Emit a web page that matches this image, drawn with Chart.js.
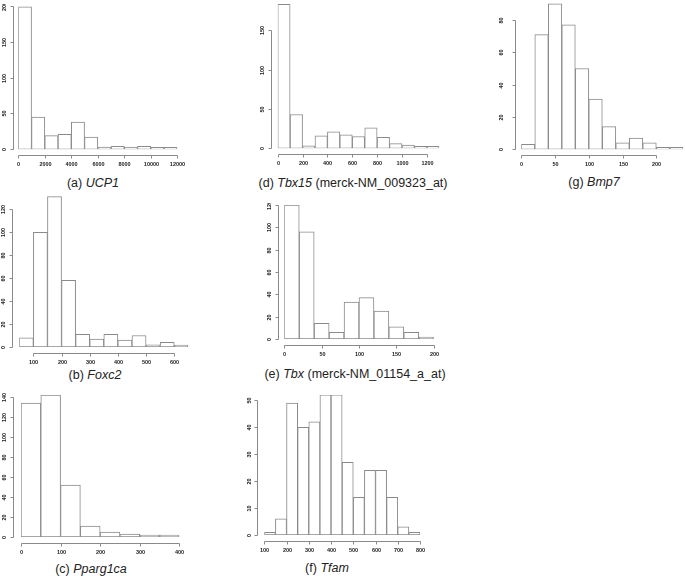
<!DOCTYPE html>
<html>
<head>
<meta charset="utf-8">
<script src="https://cdn.jsdelivr.net/npm/chart.js@4.4.1/dist/chart.umd.min.js"></script>
<style>
  body { margin: 0; background: #fff; width: 685px; height: 576px; position: relative; overflow: hidden;
         font-family: "Liberation Sans", Arial, sans-serif; }
  canvas { position: absolute; }
  .cap { position: absolute; font-size: 12.5px; line-height: 14px; color: #222; white-space: nowrap; transform: translateX(-50%); }
</style>
</head>
<body>
<div class="cap" style="left:93px;top:176px">(a) <i>UCP1</i></div>
<div class="cap" style="left:353px;top:176px">(d) <i>Tbx15</i> (merck-NM_009323_at)</div>
<div class="cap" style="left:594px;top:175px">(g) <i>Bmp7</i></div>
<div class="cap" style="left:95px;top:368px">(b) <i>Foxc2</i></div>
<div class="cap" style="left:355px;top:367px">(e) <i>Tbx</i> (merck-NM_01154_a_at)</div>
<div class="cap" style="left:91px;top:562px">(c) <i>Pparg1ca</i></div>
<div class="cap" style="left:327px;top:561px">(f) <i>Tfam</i></div>
<script>
// bin centres, counts and axis ticks for each histogram

// (a) UCP1
const ucp1Bins = [500, 1500, 2500, 3500, 4500, 5500, 6500, 7500, 8500, 9500, 10500, 11500];
const ucp1Counts = [199, 45, 19, 21, 38, 17, 3, 4, 3, 4, 0, 1];
const ucp1XTicks = [0, 2000, 4000, 6000, 8000, 10000, 12000];
const ucp1YTicks = [0, 50, 100, 150, 200];

// (d) Tbx15
const tbx15Bins = [50, 150, 250, 350, 450, 550, 650, 750, 850, 950, 1050, 1150, 1250];
const tbx15Counts = [183, 43, 3, 16, 21, 17, 15, 26, 14, 6, 4, 0, 1];
const tbx15XTicks = [0, 200, 400, 600, 800, 1000, 1200];
const tbx15YTicks = [0, 50, 100, 150];

// (g) Bmp7
const bmp7Bins = [10, 30, 50, 70, 90, 110, 130, 150, 170, 190, 210, 230];
const bmp7Counts = [3, 71, 90, 77, 50, 31, 14, 4, 7, 4, 0, 1];
const bmp7XTicks = [0, 50, 100, 150, 200];
const bmp7YTicks = [0, 20, 40, 60, 80];

// (b) Foxc2
const foxc2Bins = [75, 125, 175, 225, 275, 325, 375, 425, 475, 525, 575, 625];
const foxc2Counts = [8, 100, 131, 58, 11, 7, 11, 6, 10, 2, 4, 1];
const foxc2XTicks = [100, 200, 300, 400, 500, 600];
const foxc2YTicks = [0, 20, 40, 60, 80, 100, 120];

// (e) Tbx
const tbxBins = [10, 30, 50, 70, 90, 110, 130, 150, 170, 190];
const tbxCounts = [120, 96, 14, 6, 33, 37, 25, 11, 6, 1];
const tbxXTicks = [0, 50, 100, 150, 200];
const tbxYTicks = [0, 20, 40, 60, 80, 100, 120];

// (c) Pparg1ca
const ppargBins = [25, 75, 125, 175, 225, 275, 325, 375];
const ppargCounts = [134, 142, 52, 11, 5, 3, 1, 1];
const ppargXTicks = [0, 100, 200, 300, 400];
const ppargYTicks = [0, 20, 40, 60, 80, 100, 120, 140];

// (f) Tfam
const tfamBins = [125, 175, 225, 275, 325, 375, 425, 475, 525, 575, 625, 675, 725, 775];
const tfamCounts = [1, 6, 49, 40, 42, 52, 52, 27, 14, 24, 24, 14, 3, 1];
const tfamXTicks = [100, 200, 300, 400, 500, 600, 700, 800];
const tfamYTicks = [0, 10, 20, 30, 40, 50];

const LINE = '#8a8a8a';

// R style axes: detached lines running from first to last tick
const rAxes = {
  id: 'rAxes',
  afterDraw(chart, args, o) {
    const { ctx, chartArea } = chart;
    const x = chart.scales.x, y = chart.scales.y;
    const ax = Math.round(chartArea.left - o.yGap) + 0.5;
    const ay = Math.round(chartArea.bottom + o.xGap) + 0.5;
    ctx.save();
    ctx.strokeStyle = LINE;
    ctx.lineWidth = 1;
    ctx.fillStyle = '#222';
    ctx.font = 'bold 5.5px "Liberation Sans", Arial, sans-serif';
    ctx.textAlign = 'center';
    ctx.textBaseline = 'middle';

    const xs = o.xTicks.map(v => Math.round(x.getPixelForValue(v)) + 0.5);
    ctx.beginPath();
    ctx.moveTo(xs[0], ay);
    ctx.lineTo(xs[xs.length - 1], ay);
    xs.forEach(px => { ctx.moveTo(px, ay); ctx.lineTo(px, ay + 3); });
    ctx.stroke();
    o.xTicks.forEach((v, i) => ctx.fillText(String(v), xs[i], ay + o.xLab));

    const ys = o.yTicks.map(v => Math.round(y.getPixelForValue(v)) + 0.5);
    ctx.beginPath();
    ctx.moveTo(ax, ys[0]);
    ctx.lineTo(ax, ys[ys.length - 1]);
    ys.forEach(py => { ctx.moveTo(ax, py); ctx.lineTo(ax - 3, py); });
    ctx.stroke();
    o.yTicks.forEach((v, i) => {
      ctx.save();
      ctx.translate(ax - o.yLab, ys[i]);
      ctx.rotate(-Math.PI / 2);
      ctx.fillText(String(v), 0, 0);
      ctx.restore();
    });
    ctx.restore();
  }
};

function histPanel(bins, counts, xTicks, yTicks, g) {
  const topTick = yTicks[yTicks.length - 1];
  const ppu = (g.b - g.tickTop) / topTick;
  const t = g.b - g.ymax * ppu;
  const CL = Math.floor(g.l - 22), CT = Math.max(0, Math.floor(t - 2));
  const CR = Math.min(685, Math.ceil(g.r + 14)), CB = Math.ceil(g.b + 22);
  const cv = document.createElement('canvas');
  cv.width = CR - CL;
  cv.height = CB - CT;
  cv.style.left = CL + 'px';
  cv.style.top = CT + 'px';
  document.body.appendChild(cv);

  new Chart(cv, {
    type: 'bar',
    data: {
      datasets: [{
        data: bins.map((b, i) => ({ x: b, y: counts[i] })),
        backgroundColor: '#fff',
        borderColor: LINE,
        borderWidth: 1,
        borderSkipped: false,
        minBarLength: 2,
        barPercentage: 1,
        categoryPercentage: 1
      }]
    },
    options: {
      responsive: false,
      animation: false,
      events: [],
      layout: { padding: { left: g.l - CL, top: t - CT, right: CR - g.r, bottom: CB - g.b } },
      plugins: {
        legend: { display: false },
        tooltip: { enabled: false },
        rAxes: { xTicks, yTicks, xGap: g.xGap || 5.7, yGap: g.yGap || 6.5, xLab: 9, yLab: g.yLab || 9.5 }
      },
      scales: {
        x: { type: 'linear', display: false, offset: false, min: g.xmin, max: g.xmax, ticks: { stepSize: g.bw } },
        y: { display: false, min: 0, max: g.ymax }
      }
    },
    plugins: [rAxes]
  });
}

histPanel(ucp1Bins, ucp1Counts, ucp1XTicks, ucp1YTicks,
  { l: 18.3, r: 177.3, b: 149.3, tickTop: 6, ymax: 200, xmin: 0, xmax: 12000, bw: 1000, yGap: 5.6 });
histPanel(tbx15Bins, tbx15Counts, tbx15XTicks, tbx15YTicks,
  { l: 277.7, r: 439.3, b: 148.3, tickTop: 30.3, ymax: 185, xmin: 0, xmax: 1300, bw: 100, yGap: 7 });
histPanel(bmp7Bins, bmp7Counts, bmp7XTicks, bmp7YTicks,
  { l: 521.3, r: 683.3, b: 149.3, tickTop: 20, ymax: 92, xmin: 0, xmax: 240, bw: 20, yGap: 6.3, yLab: 14 });
histPanel(foxc2Bins, foxc2Counts, foxc2XTicks, foxc2YTicks,
  { l: 19.3, r: 188.3, b: 347, tickTop: 209.3, ymax: 132, xmin: 50, xmax: 650, bw: 50, yGap: 7 });
histPanel(tbxBins, tbxCounts, tbxXTicks, tbxYTicks,
  { l: 284.3, r: 433.7, b: 339, tickTop: 205, ymax: 120, xmin: 0, xmax: 200, bw: 20, yGap: 6 });
histPanel(ppargBins, ppargCounts, ppargXTicks, ppargYTicks,
  { l: 21, r: 179.3, b: 537, tickTop: 397, ymax: 142, xmin: 0, xmax: 400, bw: 50, yGap: 7.7 });
histPanel(tfamBins, tfamCounts, tfamXTicks, tfamYTicks,
  { l: 264.3, r: 420, b: 535, tickTop: 400.3, ymax: 52, xmin: 100, xmax: 800, bw: 50, yGap: 7, yLab: 8.5 });
</script>
</body>
</html>
